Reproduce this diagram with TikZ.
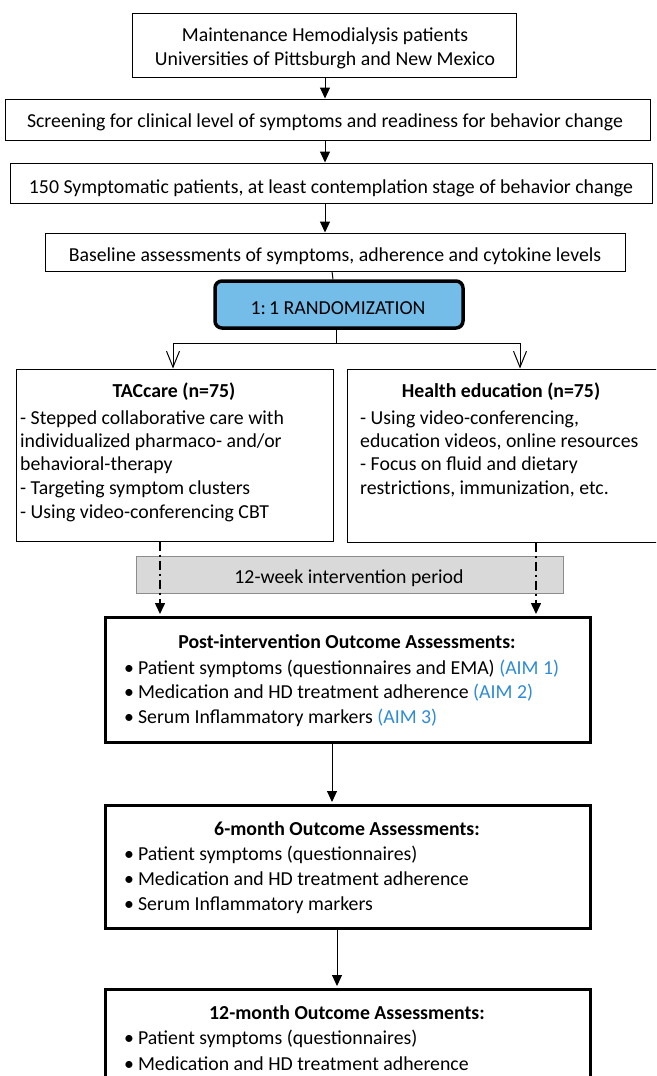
\documentclass[tikz,border=0pt]{standalone}
\usepackage{fontspec}
\setmainfont{Carlito}
\usetikzlibrary{arrows.meta,calc}
\newcommand\myfs{\fontsize{19.8}{24}\selectfont}
\definecolor{randblue}{HTML}{74BDE9}
\definecolor{aimblue}{HTML}{2F8BD6}
\definecolor{grayfill}{HTML}{D9D9D9}
\definecolor{grayline}{HTML}{8C8C8C}
\begin{document}
\begin{tikzpicture}[x=1pt,y=-1pt,
  box/.style={draw=black, line width=1pt, inner sep=0pt},
  thickbox/.style={draw=black, line width=3pt, inner sep=0pt},
  randbox/.style={draw=black, line width=3.5pt, rounded corners=7pt, fill=randblue, inner sep=0pt},
  graybox/.style={draw=grayline, line width=1pt, fill=grayfill, inner sep=0pt},
  t/.style={inner sep=0pt, anchor=base, font=\myfs},
  tl/.style={t, anchor=base west},
  conn/.style={line width=1pt},
  arr/.style={conn, -{Triangle[length=11pt,width=10pt]}},
  varr/.style={conn, -{Straight Barb[length=16pt,width=13pt,line width=1pt]}},
  dd/.style={line width=1.5pt, dash pattern=on 9pt off 4pt on 2pt off 4pt, -{Triangle[length=11pt,width=10pt]}}
]
\useasboundingbox (0,0) rectangle (656,1076);
\clip (0,0) rectangle (656,1076);

% boxes
\node[box, minimum width=384pt, minimum height=64pt] (top) at (324,45) {};
\node[box, minimum width=645pt, minimum height=41pt] (screen) at (327.5,119.5) {};
\node[box, minimum width=642pt, minimum height=40pt] (s150) at (331,183) {};
\node[box, minimum width=580pt, minimum height=38pt] (base) at (335,252) {};
\node[randbox, minimum width=248pt, minimum height=47pt] (rand) at (339,304.5) {};
\node[box, minimum width=317pt, minimum height=172pt] (tac) at (174.5,455) {};
\node[box, minimum width=313pt, minimum height=173pt] (hed) at (503.5,455.5) {};
\node[graybox, minimum width=427pt, minimum height=37pt] (gray) at (349.5,574.5) {};
\node[thickbox, minimum width=485pt, minimum height=125pt] (post) at (347.5,679.5) {};
\node[thickbox, minimum width=485pt, minimum height=123pt] (six) at (347.5,866.5) {};
\node[thickbox, minimum width=485pt, minimum height=125pt] (twelve) at (347.5,1051.5) {};

% texts
\node[t] (top1) at (325,41) {Maintenance Hemodialysis patients};
\node[t] (top2) at (325,65.5) {Universities of Pittsburgh and New Mexico};
\node[t] (scrT) at (325,127.5) {Screening for clinical level of symptoms and readiness for behavior change};
\node[t] (s150T) at (331,193.5) {150 Symptomatic patients, at least contemplation stage of behavior change};
\node[t] (baseT) at (335,261) {Baseline assessments of symptoms, adherence and cytokine levels};
\node[t] (randT) at (338,314) {1:\,1 RANDOMIZATION};

\node[t] (tacT) at (174,397) {\bfseries TACcare (n=75)};
\node[tl] (tac1) at (20,424) {- Stepped collaborative care with};
\node[tl] (tac2) at (20,447) {individualized pharmaco- and/or};
\node[tl] (tac3) at (20,470) {behavioral-therapy};
\node[tl] (tac4) at (20,494) {- Targeting symptom clusters};
\node[tl] (tac5) at (20,518.5) {- Using video-conferencing CBT};

\node[t] (hedT) at (501,397) {\bfseries Health education (n=75)};
\node[tl] (hed1) at (360,424) {- Using video-conferencing,};
\node[tl] (hed2) at (360,447) {education videos, online resources};
\node[tl] (hed3) at (360,470) {- Focus on fluid and dietary};
\node[tl] (hed4) at (360,494) {restrictions, immunization, etc.};

\node[t] (grayT) at (349,583.5) {12-week intervention period};

\node[t] (postT) at (347,648) {\bfseries Post-intervention Outcome Assessments:};
\node[tl] (post1) at (124,674) {\textbullet\hspace{4pt}Patient symptoms (questionnaires and EMA) \textcolor{aimblue}{(AIM 1)}};
\node[tl] (post2) at (124,698.5) {\textbullet\hspace{4pt}Medication and HD treatment adherence \textcolor{aimblue}{(AIM 2)}};
\node[tl] (post3) at (124,723.5) {\textbullet\hspace{4pt}Serum Inflammatory markers \textcolor{aimblue}{(AIM 3)}};

\node[t] (sixT) at (347,835.5) {\bfseries 6-month Outcome Assessments:};
\node[tl] (six1) at (124,860) {\textbullet\hspace{4pt}Patient symptoms (questionnaires)};
\node[tl] (six2) at (124,885.5) {\textbullet\hspace{4pt}Medication and HD treatment adherence};
\node[tl] (six3) at (124,910.5) {\textbullet\hspace{4pt}Serum Inflammatory markers};

\node[t] (twT) at (347,1019) {\bfseries 12-month Outcome Assessments:};
\node[tl] (tw1) at (124,1044) {\textbullet\hspace{4pt}Patient symptoms (questionnaires)};
\node[tl] (tw2) at (124,1070) {\textbullet\hspace{4pt}Medication and HD treatment adherence};

% connectors
\coordinate (cx) at (325,0);
\draw[arr] (cx |- top.south) -- (cx |- screen.north);
\draw[arr] (cx |- screen.south) -- (cx |- s150.north);
\draw[arr] (cx |- s150.south) -- (cx |- base.north);
\draw[conn] ([xshift=-3pt]base.south) -- ([xshift=-6pt]rand.north);
\coordinate (split) at (336,343);
\coordinate (sl) at (173,343);
\coordinate (sr) at (520,343);
\draw[conn] (split |- rand.south) -- (split);
\draw[conn] (sl) -- (sr);
\draw[varr] (sl) -- (sl |- tac.north);
\draw[varr] (sr) -- (sr |- hed.north);
\coordinate (dl) at (160,0);
\coordinate (dr) at (536,0);
\draw[dd] (dl |- tac.south) -- ([yshift=1.5pt]dl |- post.north);
\draw[dd] (dr |- hed.south) -- ([yshift=1.5pt]dr |- post.north);
\coordinate (c1) at (332,0);
\coordinate (c2) at (337,0);
\draw[arr] (c1 |- post.south) -- ([yshift=1.5pt]c1 |- six.north);
\draw[arr] (c2 |- six.south) -- ([yshift=1.5pt]c2 |- twelve.north);
\end{tikzpicture}
\end{document}
